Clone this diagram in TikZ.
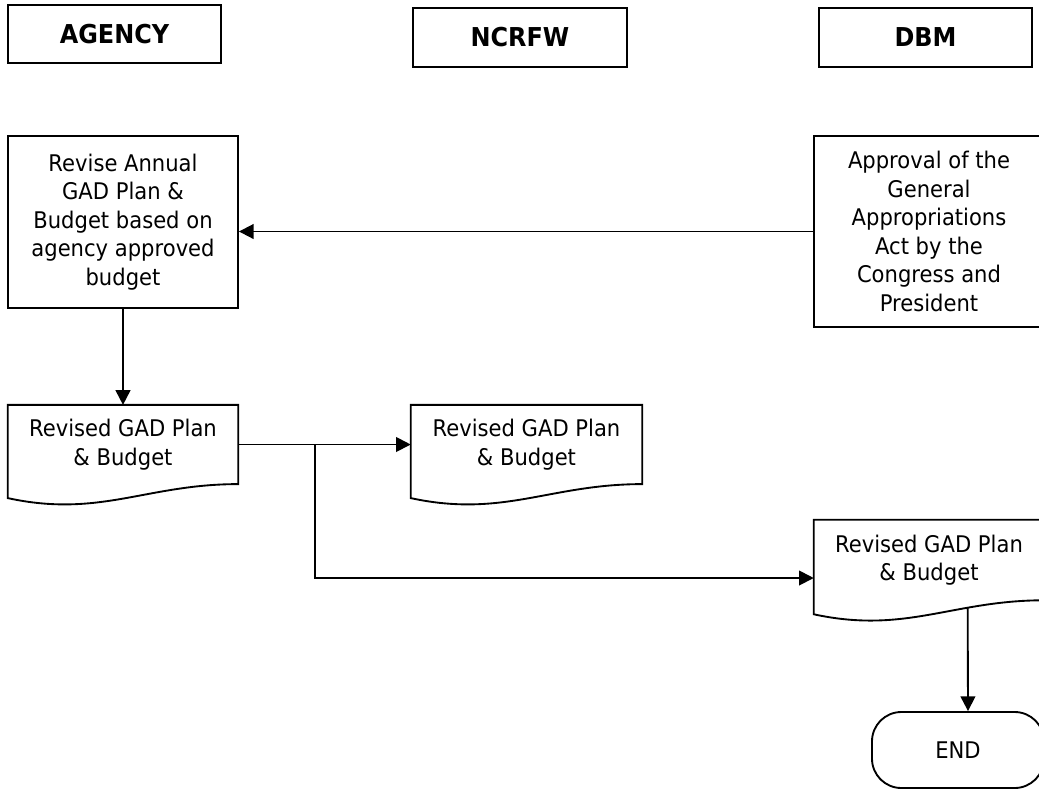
\documentclass[tikz,border=0pt]{standalone}
\usepackage{fontspec}
\setmainfont{DejaVu Sans}[FakeStretch=0.92]
\usetikzlibrary{arrows.meta,calc}

% document shape drawn round a named node
\newcommand{\docshape}[1]{%
  \draw[box] (#1.north west) -- (#1.north east) -- (#1.south east)
    .. controls ($(#1.south west)!0.6!(#1.south east)$)
    and ($(#1.south west)!0.4!(#1.south east)+(0,34)$)
    .. ($(#1.south west)+(0,14)$) -- cycle;}

\begin{document}
\begin{tikzpicture}[x=0.75pt,y=-0.75pt,
  every node/.style={inner sep=0pt, align=center, font=\fontsize{17.2}{21.4}\selectfont},
  head/.style={draw, line width=1.6pt, font=\fontsize{19.5}{22}\selectfont\bfseries},
  box/.style={draw, line width=1.4pt},
  docbox/.style={minimum width=172.5pt, minimum height=59pt},
  link/.style={line width=1.4pt, -{Triangle[length=11pt,width=11pt]}}]
  \useasboundingbox (0,0) rectangle (1039,790);

  % lanes
  \node[head, minimum width=160pt, minimum height=43.5pt] (agency) at (114.5,34) {AGENCY};
  \node[head, minimum width=160.5pt, minimum height=44pt] (ncrfw) at (520,37.5) {NCRFW};
  \node[head, minimum width=160pt, minimum height=44pt] (dbm) at (925.5,37.5) {DBM};

  % steps
  \node[box, minimum width=172.5pt, minimum height=129pt] (revise) at (123,222)
    {Revise Annual\\GAD Plan \&\\Budget based on\\agency approved\\budget};
  \node[box, minimum width=172.5pt, minimum height=143pt] (approval) at (929,231.5)
    {Approval of the\\General\\Appropriations\\Act by the\\Congress and\\President};
  \node[docbox] (doc1) at (123,444.5) {Revised GAD Plan\\\& Budget};
  \node[docbox, minimum width=173.25pt] (doc2) at (526.5,444.5) {Revised GAD Plan\\\& Budget};
  \node[docbox, minimum height=60pt] (doc3) at (929,560) {Revised GAD Plan\\\& Budget};
  \node[box, rounded corners=22pt, minimum width=129pt, minimum height=57pt] (finish) at (958,750) {END};
  \coordinate (split) at (315,444.5);

  \docshape{doc1}
  \docshape{doc2}
  \docshape{doc3}

  % flow
  \draw[link] (approval.west) -- (revise.east |- approval.west);
  \draw[link] (revise.south) -- (doc1.north);
  \draw[box] (doc1.east) -- (split);
  \draw[link] (split) -- (doc2.west);
  \draw[link] (split) |- ([yshift=-13.5pt]doc3.west);
  \draw[link] ([xshift=29pt,yshift=-5.5pt]doc3.south) -- ([xshift=7.5pt]finish.north);
\end{tikzpicture}
\end{document}
